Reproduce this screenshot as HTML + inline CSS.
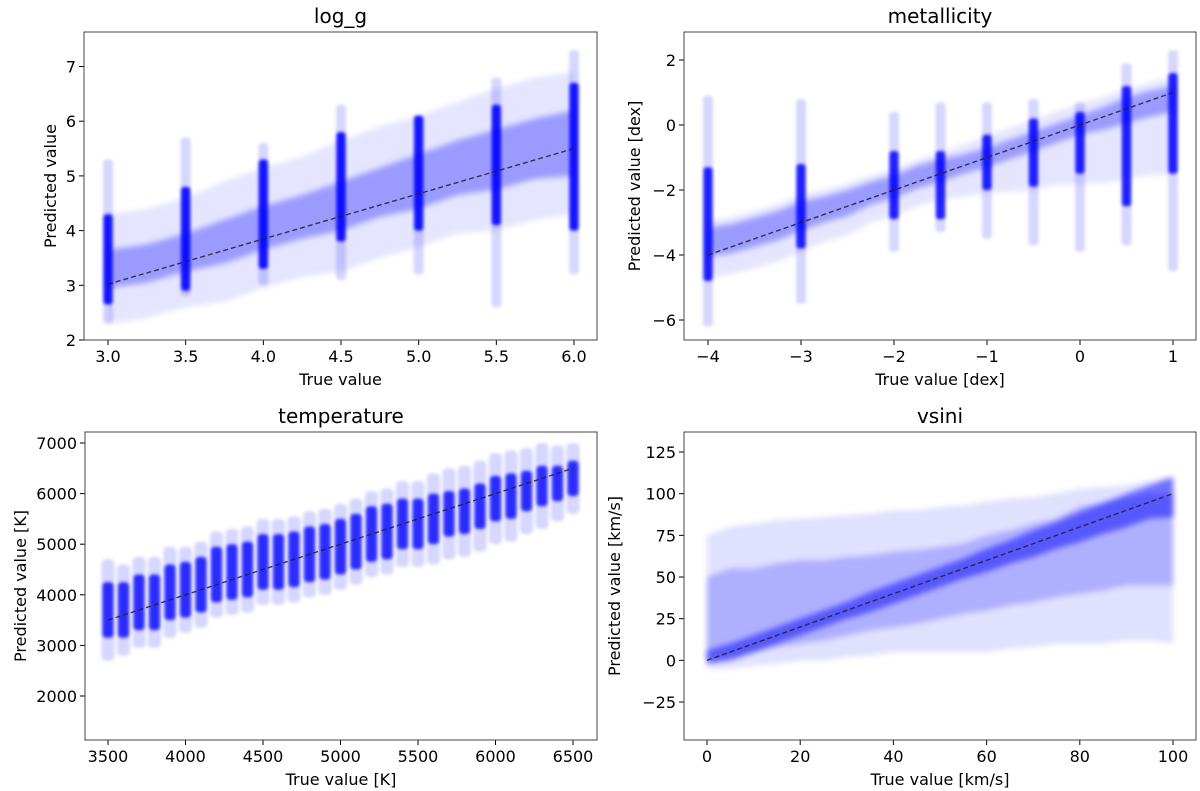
<!DOCTYPE html>
<html><head><meta charset="utf-8">
<style>
body{margin:0;background:#fff;}
svg{display:block;font-family:"DejaVu Sans","Liberation Sans",sans-serif;}
</style></head>
<body>
<svg id="fig" width="1200" height="791" viewBox="0 0 1200 791" xmlns="http://www.w3.org/2000/svg">
<defs>
<filter id="blur" x="-50%" y="-50%" width="200%" height="200%"><feGaussianBlur stdDeviation="3"/></filter>
<filter id="blur2" x="-50%" y="-50%" width="200%" height="200%"><feGaussianBlur stdDeviation="1.5"/></filter>
</defs>
</svg>
<script>
// ---- log_g data ----
const lgCloudX   = [3.0,3.25,3.5,3.75,4.0,4.25,4.5,4.75,5.0,5.25,5.5,5.75,6.0];
const lgCloudMed = [3.3,3.4,3.6,3.8,4.05,4.25,4.45,4.7,4.9,5.15,5.3,5.5,5.6];
const lgCloudCore= [0.35,0.35,0.35,0.4,0.4,0.4,0.45,0.45,0.5,0.5,0.55,0.55,0.6];
const lgCloudWide= [1.0,1.0,1.0,1.1,1.1,1.1,1.2,1.2,1.2,1.2,1.3,1.3,1.3];
const lgColX  = [3.0,3.5,4.0,4.5,5.0,5.5,6.0];
const lgColLo = [2.65,2.9,3.3,3.8,4.0,4.1,4.0];
const lgColHi = [4.3,4.8,5.3,5.8,6.1,6.3,6.7];
const lgColLo2= [2.3,2.8,3.0,3.1,3.2,2.6,3.2];
const lgColHi2= [5.3,5.7,5.6,6.3,6.1,6.8,7.3];
const lgLineX = [3.0,6.0];
const lgLineY = [3.02,5.5];
const lgTicksX = ["3.0","3.5","4.0","4.5","5.0","5.5","6.0"];
const lgTicksY = [2,3,4,5,6,7];

// ---- metallicity data ----
const mtCloudX   = [-4,-3.75,-3.5,-3.25,-3,-2.75,-2.5,-2.25,-2,-1.75,-1.5,-1.25,-1,-0.75,-0.5,-0.25,0,0.25,0.5,0.75,1];
const mtCloudMed = [-3.6,-3.5,-3.3,-3.1,-2.8,-2.6,-2.4,-2.1,-1.9,-1.6,-1.4,-1.2,-1.0,-0.75,-0.5,-0.25,0,0.2,0.45,0.65,0.8];
const mtCloudCore= [0.45,0.45,0.45,0.45,0.45,0.4,0.4,0.35,0.35,0.35,0.35,0.3,0.3,0.3,0.3,0.3,0.3,0.35,0.4,0.4,0.4];
const mtCloudWide= [1.1,1.1,1.1,1.1,1.1,1.0,1.0,0.9,0.9,0.9,0.9,1.0,1.1,1.3,1.5,1.6,1.8,2.0,2.1,2.2,2.3];
const mtColX  = [-4,-3,-2,-1.5,-1,-0.5,0,0.5,1];
const mtColLo = [-4.8,-3.8,-2.9,-2.9,-2.0,-1.9,-1.5,-2.5,-1.5];
const mtColHi = [-1.3,-1.2,-0.8,-0.8,-0.3,0.2,0.4,1.2,1.6];
const mtColLo2= [-6.2,-5.5,-3.9,-3.3,-3.5,-3.7,-3.9,-3.7,-4.5];
const mtColHi2= [0.9,0.8,0.4,0.7,0.7,0.8,0.7,1.9,2.3];
const mtLineX = [-4,1];
const mtLineY = [-4,1];
const mtTicksX = [-4,-3,-2,-1,0,1];
const mtTicksY = [-6,-4,-2,0,2];

// ---- temperature data ----
const tpColX   = [3500,3600,3700,3800,3900,4000,4100,4200,4300,4400,4500,4600,4700,4800,4900,5000,5100,5200,5300,5400,5500,5600,5700,5800,5900,6000,6100,6200,6300,6400,6500];
const tpColMed = [3700,3700,3850,3850,4050,4100,4200,4400,4450,4500,4650,4650,4700,4800,4850,4950,5050,5200,5250,5400,5400,5500,5600,5650,5750,5900,5950,6050,6150,6200,6300];
const tpColCore= [550,550,550,550,550,550,550,550,550,550,550,550,550,550,550,550,550,550,550,500,500,500,450,450,450,450,450,400,400,350,350];
const tpColWide= [1000,900,900,900,900,850,850,850,850,850,850,850,850,850,850,850,850,850,850,850,850,900,900,900,900,900,900,850,850,750,700];
const tpLineX = [3500,6500];
const tpLineY = [3500,6500];
const tpTicksX = [3500,4000,4500,5000,5500,6000,6500];
const tpTicksY = [2000,3000,4000,5000,6000,7000];

// ---- vsini data ----
const vsCloudX   = [0,5,10,15,20,25,30,35,40,45,50,55,60,65,70,75,80,85,90,95,100];
const vsCoreMed  = [2,5,10,15,20,25,30,35,40,45,50,55,60,65,70,75,80,85,90,95,98];
const vsCoreHalf = [4,5,5,5,5,5,5,6,6,6,6,6,7,7,8,8,9,9,10,10,12];
const vsMidLo    = [0,2,5,8,10,12,15,18,20,22,25,28,30,33,35,38,40,42,45,45,45];
const vsMidHi    = [50,55,55,58,60,60,62,63,65,66,68,70,75,78,82,85,92,95,97,100,100];
const vsWideLo   = [-5,-5,-3,-2,0,0,2,3,5,5,5,5,5,7,8,10,10,10,12,12,10];
const vsWideHi   = [75,80,82,84,85,86,87,88,90,90,92,93,95,97,98,100,103,104,105,108,110];
const vsLineX = [0,100];
const vsLineY = [0,100];
const vsTicksX = [0,20,40,60,80,100];
const vsTicksY = [-25,0,25,50,75,100,125];

const NS="http://www.w3.org/2000/svg";
const svg=document.getElementById('fig');
function el(tag,attrs,parent){const e=document.createElementNS(NS,tag);for(const k in attrs)e.setAttribute(k,attrs[k]);(parent||svg).appendChild(e);return e;}
function lin(d0,p0,d1,p1){return v=>p0+(v-d0)*(p1-p0)/(d1-d0);}

function makePanel(o){
  const g=el('g',{});
  
  
  const [L,T,R,B]=o.box;
  const clipId='clip-'+o.name;
  const cp=el('clipPath',{id:clipId},g);
  el('rect',{x:L,y:T,width:R-L,height:B-T},cp);
  const marks=el('g',{'clip-path':'url(#'+clipId+')'},g);
  
  
  const title=el('text',{x:(L+R)/2,y:T-9,'text-anchor':'middle','font-size':20,fill:'#000'},g);
  title.textContent=o.title;
  
  
  o.ticksX.forEach(t=>{
    const x=o.xs(+t);
    el('line',{x1:x,y1:B,x2:x,y2:B+5,stroke:'#000','stroke-width':1},g);
    const tx=el('text',{x:x,y:B+22,'text-anchor':'middle','font-size':16,fill:'#000'},g);
    tx.textContent=String(t).replace('-','\u2212');
    
    
  });
  o.ticksY.forEach(t=>{
    const y=o.ys(+t);
    el('line',{x1:L-5,y1:y,x2:L,y2:y,stroke:'#000','stroke-width':1},g);
    const ty=el('text',{x:L-8,y:y+6,'text-anchor':'end','font-size':16,fill:'#000'},g);
    ty.textContent=String(t).replace('-','\u2212');
    
    
  });
  const xl=el('text',{x:(L+R)/2,y:B+45,'text-anchor':'middle','font-size':16,fill:'#000'},g);
  xl.textContent=o.xlabel;
  
  
  const yl=el('text',{x:0,y:0,'text-anchor':'middle','font-size':16,fill:'#000',transform:`translate(${o.ylx},${(T+B)/2}) rotate(-90)`},g);
  yl.textContent=o.ylabel;
  
  
  o.marks=marks;o.g=g;
  return o;
}
function finish(o,lx,ly){
  const [L,T,R,B]=o.box;
  const ln=el('line',{x1:o.xs(lx[0]),y1:o.ys(ly[0]),x2:o.xs(lx[1]),y2:o.ys(ly[1]),stroke:'#222','stroke-width':1.4,'stroke-dasharray':'5,3',opacity:0.85},o.marks);
  
  
  const fr=el('rect',{x:L,y:T,width:R-L,height:B-T,fill:'none',stroke:'#444','stroke-width':1},o.g);
  
  
}
function band(o,xc,lo,hi,w,op,blur){
  const y1=o.ys(hi),y2=o.ys(lo);
  const r=el('rect',{x:xc-w/2,y:Math.min(y1,y2),width:w,height:Math.abs(y2-y1),fill:'#0000ff','fill-opacity':op,rx:w/3,filter:'url(#'+blur+')'},o.marks);
  
  
}
function poly(o,xsArr,lo,hi,op){
  let pts=[];
  for(let i=0;i<xsArr.length;i++)pts.push(o.xs(xsArr[i])+','+o.ys(hi[i]));
  for(let i=xsArr.length-1;i>=0;i--)pts.push(o.xs(xsArr[i])+','+o.ys(lo[i]));
  const p=el('polygon',{points:pts.join(' '),fill:'#0000ff','fill-opacity':op,filter:'url(#blur)'},o.marks);
  
  
}

// log_g
const p1=makePanel({name:'log-g',title:'log_g',box:[84,32,597,340],xs:lin(3,108,6,574),ys:lin(2,340,7,66.5),ticksX:lgTicksX,ticksY:lgTicksY,xlabel:'True value',ylabel:'Predicted value',ylx:56});
poly(p1,lgCloudX,lgCloudMed.map((m,i)=>m-lgCloudWide[i]),lgCloudMed.map((m,i)=>m+lgCloudWide[i]),0.1);
poly(p1,lgCloudX,lgCloudMed.map((m,i)=>m-lgCloudCore[i]),lgCloudMed.map((m,i)=>m+lgCloudCore[i]),0.32);
lgColX.forEach((x,i)=>{band(p1,p1.xs(x),lgColLo2[i],lgColHi2[i],10,0.16,'blur2');band(p1,p1.xs(x),lgColLo[i],lgColHi[i],9,0.9,'blur2');});
finish(p1,lgLineX,lgLineY);

// metallicity
const p2=makePanel({name:'metallicity',title:'metallicity',box:[684,32,1196,340],xs:lin(-4,708,1,1173),ys:lin(-6,320,2,60),ticksX:mtTicksX,ticksY:mtTicksY,xlabel:'True value [dex]',ylabel:'Predicted value [dex]',ylx:640});
poly(p2,mtCloudX,mtCloudMed.map((m,i)=>m-mtCloudWide[i]),mtCloudMed.map((m,i)=>m+Math.min(mtCloudWide[i],1.1)*0.6),0.1);
poly(p2,mtCloudX,mtCloudMed.map((m,i)=>m-mtCloudCore[i]),mtCloudMed.map((m,i)=>m+mtCloudCore[i]),0.32);
mtColX.forEach((x,i)=>{band(p2,p2.xs(x),mtColLo2[i],mtColHi2[i],10,0.16,'blur2');band(p2,p2.xs(x),mtColLo[i],mtColHi[i],9,0.85,'blur2');});
finish(p2,mtLineX,mtLineY);

// temperature
const p3=makePanel({name:'temperature',title:'temperature',box:[85,432,597,740],xs:lin(3500,108,6500,573),ys:lin(2000,696,7000,443),ticksX:tpTicksX,ticksY:tpTicksY,xlabel:'True value [K]',ylabel:'Predicted value [K]',ylx:26});
tpColX.forEach((x,i)=>{
  band(p3,p3.xs(x),tpColMed[i]-tpColWide[i],tpColMed[i]+tpColWide[i],13,0.16,'blur2');
  band(p3,p3.xs(x),tpColMed[i]-tpColCore[i],tpColMed[i]+tpColCore[i],11,0.8,'blur2');
});
finish(p3,tpLineX,tpLineY);

// vsini
const p4=makePanel({name:'vsini',title:'vsini',box:[684,432,1196,740],xs:lin(0,707,100,1173),ys:lin(-25,702,125,452),ticksX:vsTicksX,ticksY:vsTicksY,xlabel:'True value [km/s]',ylabel:'Predicted value [km/s]',ylx:620});
poly(p4,vsCloudX,vsWideLo,vsWideHi,0.12);
poly(p4,vsCloudX,vsMidLo,vsMidHi,0.22);
poly(p4,vsCloudX,vsCoreMed.map((m,i)=>m-vsCoreHalf[i]),vsCoreMed.map((m,i)=>m+vsCoreHalf[i]),0.5);
finish(p4,vsLineX,vsLineY);
</script>
</body></html>
